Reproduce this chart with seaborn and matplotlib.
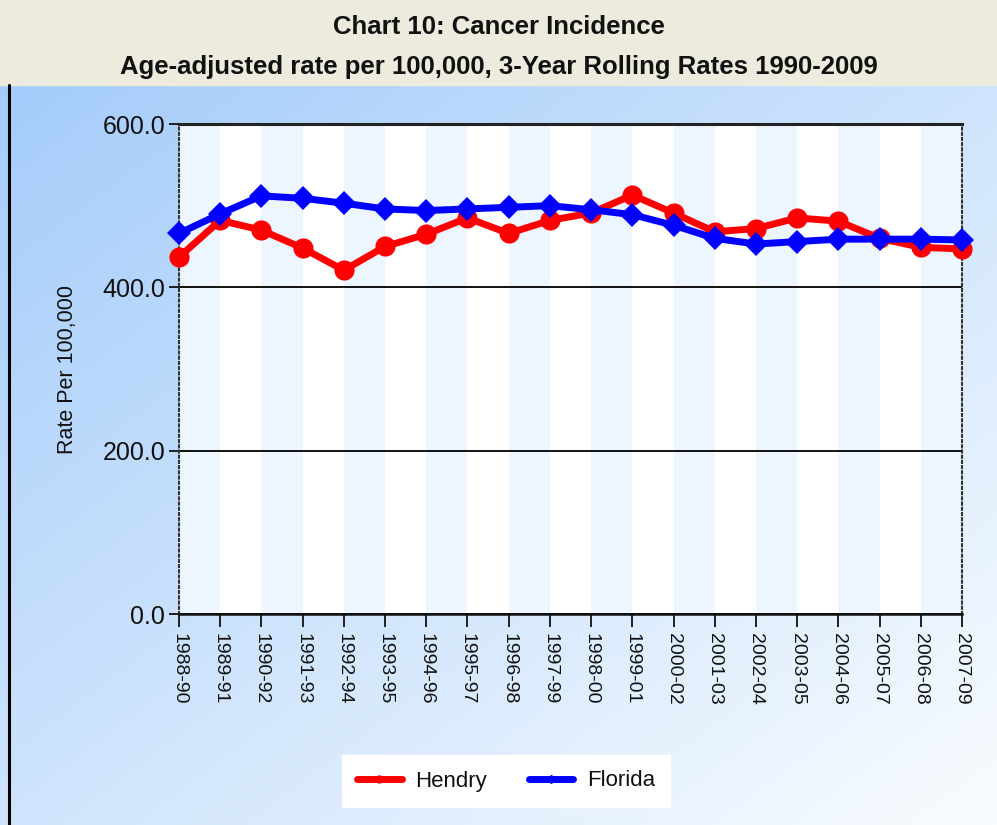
import numpy as np
import pandas as pd
import matplotlib
matplotlib.use("Agg")
import matplotlib.pyplot as plt
from matplotlib.lines import Line2D
from matplotlib.patches import Rectangle
import seaborn as sns

# data (3-year rolling, age-adjusted per 100,000)
periods = ["1988-90", "1989-91", "1990-92", "1991-93", "1992-94", "1993-95",
           "1994-96", "1995-97", "1996-98", "1997-99", "1998-00", "1999-01",
           "2000-02", "2001-03", "2002-04", "2003-05", "2004-06", "2005-07",
           "2006-08", "2007-09"]
hendry = [437, 482, 470, 448, 421, 450, 465, 485, 466, 482,
          491, 513, 491, 468, 472, 485, 481, 460, 449, 447]
florida = [466, 490, 512, 509, 503, 496, 494, 496, 498, 500,
           495, 489, 476, 460, 453, 456, 459, 459, 459, 458]
yticks = [0, 200, 400, 600]

df = pd.concat([
    pd.DataFrame({"period": periods, "rate": hendry, "series": "Hendry"}),
    pd.DataFrame({"period": periods, "rate": florida, "series": "Florida"}),
])

sns.set_theme(style="white")
plt.rcParams["font.family"] = ["Liberation Sans", "DejaVu Sans"]

W, H = 997, 825
fig = plt.figure(figsize=(W / 100, H / 100), dpi=100)

# title band + gradient backdrop
band = 85 / H
fig.patches.append(Rectangle((0, 1 - band), 1, band, transform=fig.transFigure,
                             color="#ECEBDE", zorder=0))
bg = fig.add_axes([0, 0, 1, 1 - band], zorder=-1)
gx, gy = np.meshgrid(np.linspace(0, 1, 200), np.linspace(0, 1, 200))
t = (gx + gy) / 2
c0 = np.array([0xA4, 0xCC, 0xFA]) / 255
c1 = np.array([0xF9, 0xFC, 0xFF]) / 255
grad = c0[None, None, :] * (1 - t[..., None]) + c1[None, None, :] * t[..., None]
bg.imshow(grad, extent=[0, 1, 0, 1], aspect="auto", origin="upper")
bg.axis("off")
fig.add_artist(Line2D([8.5 / W, 8.5 / W], [0, 1 - band], transform=fig.transFigure,
                      color="black", lw=2.2))

fig.text(0.5, 1 - 27 / H, "Chart 10: Cancer Incidence", ha="center", va="center",
         fontsize=18.5, fontweight="bold", color="#111111")
fig.text(0.5, 1 - 67 / H, "Age-adjusted rate per 100,000, 3-Year Rolling Rates 1990-2009",
         ha="center", va="center", fontsize=18.5, fontweight="bold", color="#111111")

# main plot
ax = fig.add_axes([179 / W, (H - 614) / H, 783 / W, 490 / H])
ax.set_facecolor("white")
for i in range(0, len(periods) - 1, 2):
    ax.axvspan(i, i + 1, color="#EDF5FE", zorder=0, lw=0)

sns.lineplot(data=df, x="period", y="rate", hue="series", style="series",
             hue_order=["Hendry", "Florida"], style_order=["Hendry", "Florida"],
             palette={"Hendry": "#FF0000", "Florida": "#0000FF"},
             markers={"Hendry": "o", "Florida": "D"}, dashes=False,
             linewidth=5, markeredgewidth=0, sort=False, legend=False, ax=ax, zorder=3)
for ln in ax.lines:
    ln.set_markersize(14.5 if ln.get_marker() == "o" else 12)
    ln.set_clip_on(False)

ax.set_xlim(0, len(periods) - 1)
ax.set_ylim(0, 600)
ax.set_yticks(yticks)
ax.set_yticklabels([f"{v:.1f}" for v in yticks])
ax.set_xticks(range(len(periods)))
ax.set_xticklabels(periods, rotation=270, ha="center", va="top")
ax.yaxis.grid(True, color="black", lw=1.3)
ax.xaxis.grid(False)
ax.set_axisbelow(True)
ax.set_xlabel("")
ax.set_ylabel("Rate Per 100,000", fontsize=15.5, color="#111111")
ax.yaxis.set_label_coords((78 - 179) / 783, 0.5)

for side in ["left", "right"]:
    ax.spines[side].set_linestyle((0, (1, 1.5)))
    ax.spines[side].set_linewidth(1.5)
    ax.spines[side].set_color("#333333")
ax.spines["top"].set_linewidth(2.2)
ax.spines["top"].set_color("#222222")
ax.spines["bottom"].set_linewidth(1.8)
ax.spines["bottom"].set_color("#111111")

ax.tick_params(axis="y", direction="inout", length=14, width=1.3, labelsize=18,
               pad=3, colors="#111111", left=True)
ax.tick_params(axis="x", direction="out", length=9, width=1.3, labelsize=14,
               pad=5, colors="#111111", bottom=True)

handles = [Line2D([], [], color="#FF0000", lw=5, marker="o", markersize=5),
           Line2D([], [], color="#0000FF", lw=5, marker="D", markersize=4)]
leg = fig.legend(handles, ["Hendry", "Florida"], loc="center",
                 bbox_to_anchor=(506 / W, 1 - 781 / H), ncol=2, fontsize=16,
                 frameon=True, fancybox=False, framealpha=1, facecolor="white",
                 edgecolor="white", handlelength=2.0, columnspacing=1.9,
                 borderpad=0.7, handletextpad=0.6, borderaxespad=0)
for txt in leg.get_texts():
    txt.set_color("#111111")

fig.savefig("out.png", dpi=100)
